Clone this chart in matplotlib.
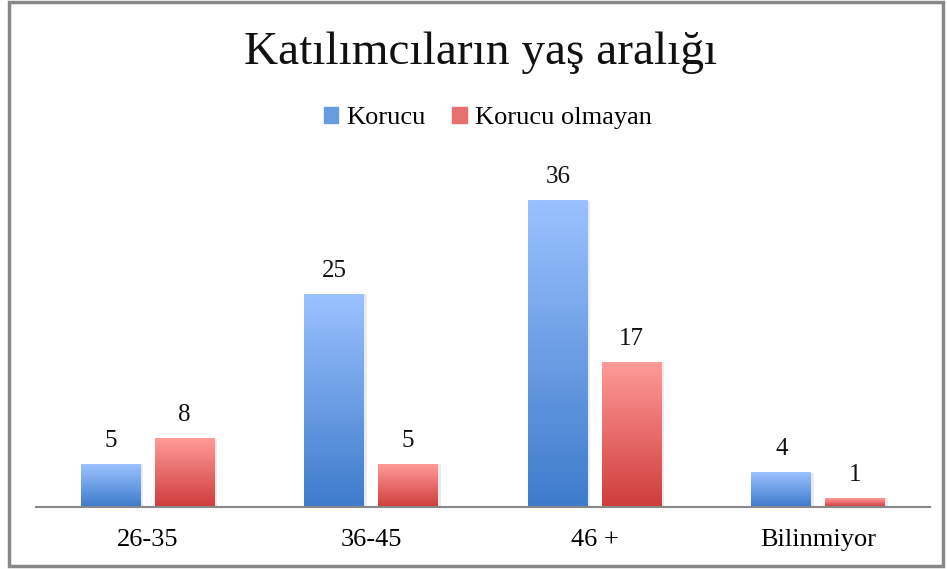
import numpy as np
import matplotlib.pyplot as plt
from matplotlib.colors import LinearSegmentedColormap
from matplotlib.patches import Rectangle

plt.rcParams["font.family"] = ["Liberation Serif", "DejaVu Serif"]

categories = ["26-35", "36-45", "46 +", "Bilinmiyor"]
korucu = [5, 25, 36, 4]
korucu_olmayan = [8, 5, 17, 1]
series_names = ["Korucu", "Korucu olmayan"]

# gradient: light at top, darker at bottom
blue_cmap = LinearSegmentedColormap.from_list("blue", ["#3D7BCB", "#9BC2FF"])
red_cmap = LinearSegmentedColormap.from_list("red", ["#CF3C3C", "#FF9B98"])

fig = plt.figure(figsize=(9.47, 5.69), dpi=100)
ax = fig.add_axes([0.038, 0.109, 0.944, 0.598])

x = np.arange(len(categories))
width = 0.268
offset = 0.165
grad = np.linspace(0, 1, 256).reshape(-1, 1)

def gradient_bars(xs, vals, cmap, label):
    bars = ax.bar(xs, vals, width, color=cmap(0.5), label=label, zorder=2)
    for b in bars:
        b.set_alpha(0)
        x0, y0 = b.get_x(), b.get_y()
        w, h = b.get_width(), b.get_height()
        # soft shadow on right
        ax.add_patch(Rectangle((x0 + w, y0), 0.012, h, color="#d8d8d8",
                               alpha=0.5, lw=0, zorder=1))
        ax.imshow(grad, cmap=cmap, origin="lower", aspect="auto",
                  extent=(x0, x0 + w, y0, y0 + h), zorder=2)
        ax.text(x0 + w / 2, h + 1.5, f"{h:g}", ha="center", va="bottom",
                fontsize=18, color="#111111")
    return bars

gradient_bars(x - offset, korucu, blue_cmap, series_names[0])
gradient_bars(x + offset, korucu_olmayan, red_cmap, series_names[1])

ax.set_xlim(-0.5, len(categories) - 0.5)
ax.set_ylim(0, 40)
ax.set_xticks(x)
ax.set_xticklabels(categories, fontsize=19)
ax.tick_params(axis="x", length=0, pad=16)
ax.set_yticks([])
for s in ["top", "right", "left"]:
    ax.spines[s].set_visible(False)
ax.spines["bottom"].set_color("#888888")
ax.spines["bottom"].set_linewidth(1.5)
ax.spines["bottom"].set_zorder(3)

# legend squares
handles = [Rectangle((0, 0), 1, 1, color=blue_cmap(0.45)),
           Rectangle((0, 0), 1, 1, color=red_cmap(0.55))]
fig.legend(handles, series_names, loc="center", bbox_to_anchor=(0.515, 0.793),
           ncol=2, frameon=False, fontsize=19, handlelength=0.55,
           handleheight=0.55, handletextpad=0.3, columnspacing=1.0)

fig.text(0.507, 0.908, "Katılımcıların yaş aralığı", ha="center", va="center",
         fontsize=34, color="#111111")

# outer frame
fig.patches.append(Rectangle((0.009, 0.006), 0.987, 0.99, transform=fig.transFigure,
                             fill=False, edgecolor="#888888", linewidth=2.5))

fig.savefig("out.png", dpi=100)
